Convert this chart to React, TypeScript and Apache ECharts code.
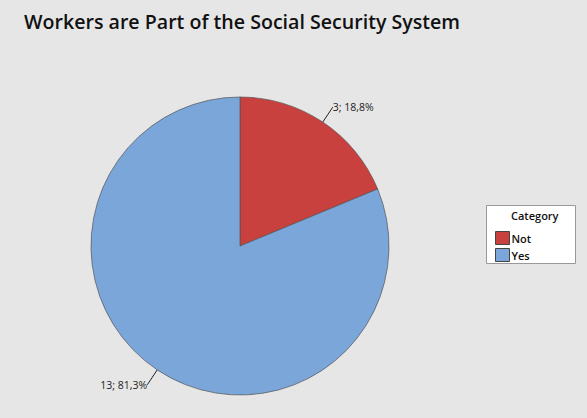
import React, { useEffect, useRef } from "react";
import * as echarts from "echarts";

const categories = ["Not", "Yes"];
const counts = [3, 13];
const colors = ["#C8413F", "#7BA6D9"];
const titleText = "Workers are Part of the Social Security System";
const legendTitle = "Category";

export default function App() {
  const ref = useRef<HTMLDivElement>(null);
  useEffect(() => {
    document.body.style.margin = "0";
    const chart = echarts.init(ref.current!, null, { renderer: "svg" });
    const total = counts.reduce((a, b) => a + b, 0);
    chart.setOption({
      animation: false,
      backgroundColor: "#E6E6E6",
      title: {
        text: titleText,
        left: 19,
        top: 6,
        textStyle: { fontFamily: "Open Sans", fontWeight: 600, fontSize: 19.6, color: "#111" },
      },
      legend: {
        orient: "vertical",
        left: 490,
        top: 226,
        icon: "rect",
        itemWidth: 14,
        itemHeight: 13,
        itemGap: 3,
        data: categories,
        textStyle: { fontFamily: "Open Sans", fontSize: 11, fontWeight: 600, color: "#111", padding: [0, 0, 0, -3] },
        itemStyle: { borderColor: "#444", borderWidth: 1 },
      },
      graphic: [
        {
          type: "rect",
          shape: { x: 486.5, y: 205.5, width: 89, height: 58 },
          style: { fill: "#FFFFFF", stroke: "#999", lineWidth: 1 },
          z: -1,
        },
        {
          type: "text",
          x: 511,
          y: 210,
          style: { text: legendTitle, fontFamily: "Open Sans", fontSize: 11, fontWeight: 600, fill: "#111" },
        },
      ],
      series: [
        {
          type: "pie",
          center: [240, 246],
          radius: 149,
          startAngle: 90,
          clockwise: true,
          data: categories.map((c, i) => ({ name: c, value: counts[i], itemStyle: { color: colors[i] } })),
          itemStyle: { borderColor: "#555", borderWidth: 0.7 },
          label: {
            show: true,
            position: "outside",
            distanceToLabelLine: 0,
            fontFamily: "Open Sans",
            fontSize: 10.5,
            color: "#222",
            formatter: (p: any) => `${p.value}; ${((p.value / total) * 100).toFixed(1).replace(".", ",")}%`,
          },
          labelLine: { show: true, length: 18, length2: 0, lineStyle: { color: "#222", width: 1 } },
          emphasis: { disabled: true },
        },
      ],
    });
    return () => chart.dispose();
  }, []);
  return <div ref={ref} style={{ width: 587, height: 418 }} />;
}
